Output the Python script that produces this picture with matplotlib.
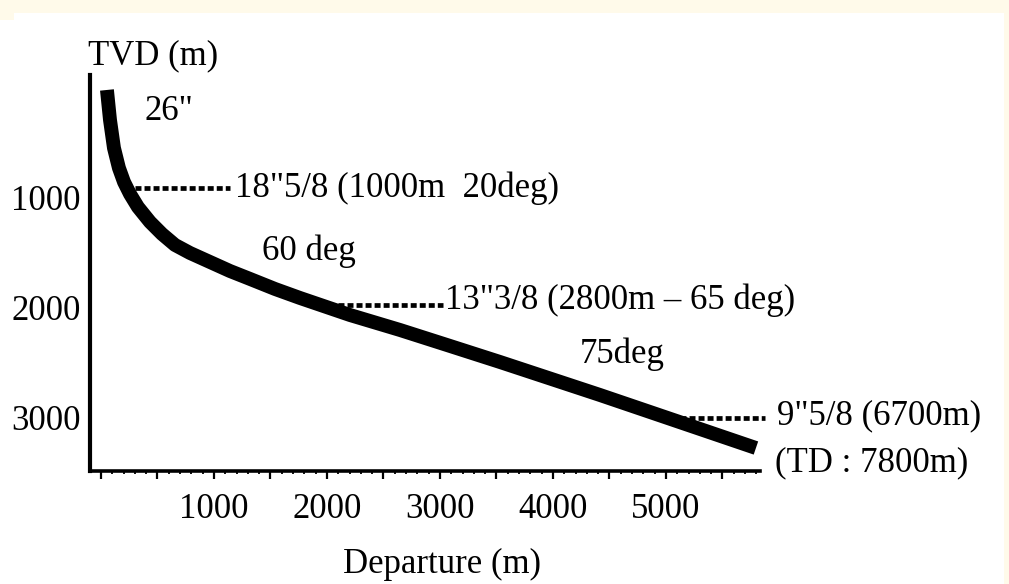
import matplotlib
matplotlib.use("Agg")
import matplotlib.pyplot as plt
from matplotlib.patches import Rectangle
from matplotlib.ticker import MultipleLocator, FixedLocator, FuncFormatter
from matplotlib.transforms import ScaledTranslation

plt.rcParams['font.family'] = ['Liberation Serif', 'DejaVu Serif']
plt.rcParams['lines.scale_dashes'] = False

# Well trajectory: horizontal departure vs true vertical depth (m)
departure = [53, 80, 115, 159, 204, 257, 327, 434, 540, 655, 788, 965,
             1142, 1319, 1540, 1761, 2204, 2646, 3088, 3531, 4416, 5301, 5796]
tvd = [18, 291, 545, 727, 855, 964, 1082, 1218, 1327, 1427, 1500, 1582,
       1664, 1736, 1827, 1909, 2064, 2200, 2345, 2491, 2791, 3100, 3273]

# Casing shoe markers: label, shoe TVD, leader line span, label position
casing_labels = ['18"5/8 (1000m  20deg)', '13"3/8 (2800m \u2013 65 deg)', '9"5/8 (6700m)']
casing_tvd = [909, 1973, 3000]
casing_dep_start = [301, 2097, 5124]
casing_dep_end = [1142, 3027, 5876]
casing_text_dep = [1186, 3044, 5982]
casing_text_tvd = [909, 1930, 2982]

# Section annotations: text, departure, TVD
section_labels = ['26"', '60 deg', '75deg', '(TD : 7800m)']
section_dep = [389, 1425, 4239, 5965]
section_tvd = [215, 1480, 2418, 3410]

x_major = [0, 500, 1000, 1500, 2000, 2500, 3000, 3500, 4000, 4500, 5000, 5500]
y_ticks = [1000, 2000, 3000]

FS = 25
W, H = 1009, 584
fig = plt.figure(figsize=(W / 100, H / 100), dpi=100, facecolor='white')

# cream page border
cream = '#FFFAEA'
for (x0, y0, w, h) in [(0, 0, W, 13), (0, 0, 14, 20), (1004, 0, 5, H)]:
    fig.patches.append(Rectangle((x0 / W, 1 - (y0 + h) / H), w / W, h / H,
                                 transform=fig.transFigure, facecolor=cream,
                                 edgecolor='none', zorder=0))

ax = fig.add_axes([90 / W, 1 - 471 / H, (760 - 90) / W, (471 - 75) / H])
ax.set_facecolor('none')
ax.set_xlim(-97, 5832)
ax.set_ylim(3482, -118)

for s in ['top', 'right']:
    ax.spines[s].set_visible(False)
ax.spines['left'].set_linewidth(3.0)
ax.spines['bottom'].set_linewidth(2.6)

ax.xaxis.set_major_locator(FixedLocator(x_major))
ax.xaxis.set_minor_locator(MultipleLocator(100))
ax.xaxis.set_major_formatter(FuncFormatter(lambda v, p: f'{int(v)}' if v > 0 and v % 1000 == 0 else ''))
ax.tick_params(axis='x', which='major', length=6, width=1.6, pad=10, labelsize=FS, direction='out')
ax.tick_params(axis='x', which='minor', length=2.5, width=1.3, direction='out')

ax.yaxis.set_major_locator(FixedLocator(y_ticks))
ax.yaxis.set_minor_locator(FixedLocator([]))
ax.tick_params(axis='y', length=0, pad=6.5, labelsize=FS)
shift = ScaledTranslation(0, -2.2 / 72, fig.dpi_scale_trans)
for t in ax.get_yticklabels():
    t.set_verticalalignment('center')
    t.set_transform(t.get_transform() + shift)

# trajectory
ax.plot(departure, tvd, color='black', linewidth=10, solid_joinstyle='round',
        solid_capstyle='butt', zorder=3)

# casing leader lines and labels
for d, x0, x1 in zip(casing_tvd, casing_dep_start, casing_dep_end):
    ax.plot([x0, x1], [d, d], color='black', linewidth=3.4, dashes=(4.3, 2.2),
            dash_capstyle='butt', zorder=2, clip_on=False)
for lab, x, y in zip(casing_labels, casing_text_dep, casing_text_tvd):
    ax.text(x, y, lab, fontsize=FS, va='center', ha='left', clip_on=False)

for lab, x, y in zip(section_labels, section_dep, section_tvd):
    ax.text(x, y, lab, fontsize=FS, va='center', ha='left', clip_on=False)

fig.text(88 / W, 1 - 56 / H, 'TVD (m)', fontsize=FS, ha='left', va='center')
fig.text(442 / W, 1 - 564 / H, 'Departure (m)', fontsize=FS, ha='center', va='center')

fig.savefig('out.png', dpi=100, facecolor=fig.get_facecolor())
